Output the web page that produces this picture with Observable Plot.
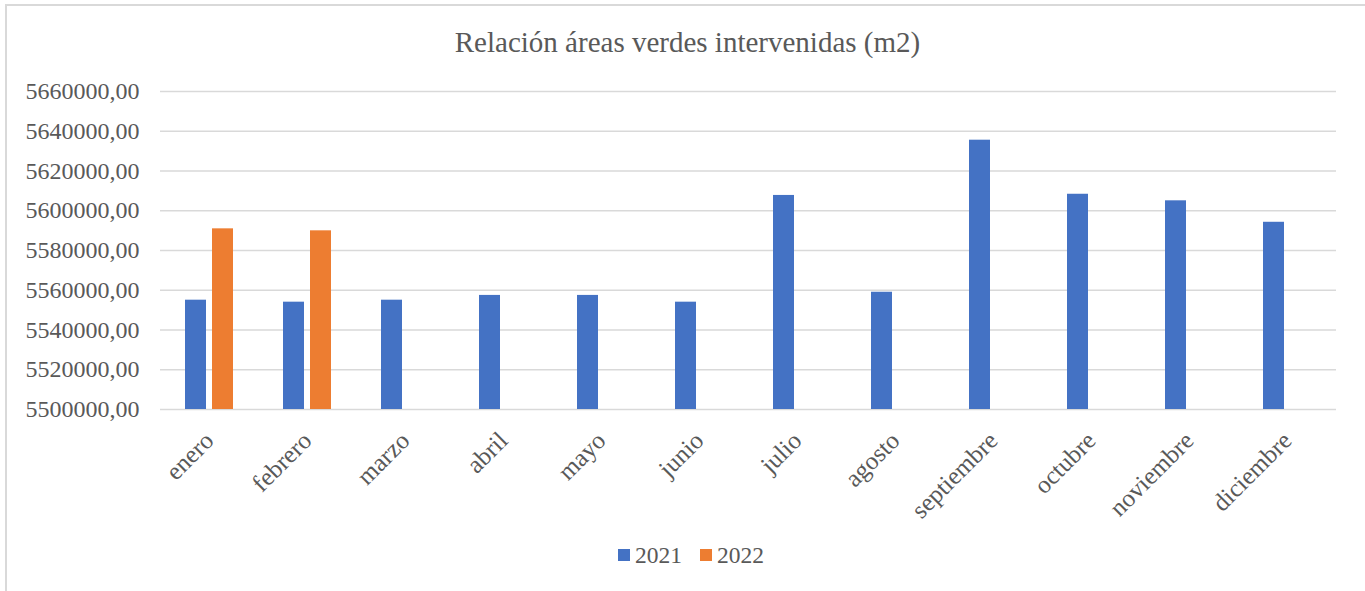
<!DOCTYPE html>
<html><head><meta charset="utf-8">
<script src="https://cdn.jsdelivr.net/npm/d3@7"></script>
<script src="https://cdn.jsdelivr.net/npm/@observablehq/plot@0.6"></script>
<style>
body{margin:0;background:#fff;width:1365px;height:591px;overflow:hidden;position:relative;}
#frame{position:absolute;left:5px;top:4px;width:1400px;height:700px;border-left:2px solid #d9d9d9;border-top:2px solid #d9d9d9;box-sizing:border-box;pointer-events:none}
#title{position:relative;height:70px}
#title span{position:absolute;left:0;width:1375px;text-align:center;top:28px;font-size:29px;line-height:29px;color:#595959;white-space:nowrap}
#chart svg{display:block;overflow:visible}
#legend{position:absolute;top:543px;left:0;width:1365px;height:24px;padding-left:17px;box-sizing:border-box;display:flex;justify-content:center;align-items:center;font-size:23.5px;line-height:24px;color:#595959}
#legend .item{display:flex;align-items:center;margin:0 9px}
#legend .sw{width:12px;height:12px;margin-right:5px}
</style></head>
<body>
<div id="frame"></div>
<div id="title"><span id="titleText"></span></div>
<div id="chart"></div>
<div id="legend"></div>
<script>
const FONT = '"Liberation Serif", "Times New Roman", Tinos, serif';
const titleText = "Relación áreas verdes intervenidas (m2)";
const months = ["enero","febrero","marzo","abril","mayo","junio","julio","agosto","septiembre","octubre","noviembre","diciembre"];
const years = ["2021","2022"];
const colors = ["#4472C4","#ED7D31"];
const values2021 = [5555000,5554000,5555000,5557400,5557400,5554000,5607700,5559000,5635500,5608300,5605000,5594200];
const values2022 = [5590900,5589900];
const yTicks = [5500000,5520000,5540000,5560000,5580000,5600000,5620000,5640000,5660000];
const yMin = 5500000, yMax = 5660000;

document.body.style.fontFamily = FONT;
const tEl = document.getElementById("titleText");
tEl.textContent = titleText;
tEl.style.fontFamily = FONT;

const rows = [];
values2021.forEach((v,i)=>rows.push({month:months[i],year:"2021",value:v}));
values2022.forEach((v,i)=>rows.push({month:months[i],year:"2022",value:v}));

const chart = Plot.plot({
  width: 1365,
  height: 470,
  marginTop: 21,
  marginBottom: 131,
  marginLeft: 158,
  marginRight: 27,
  style: {fontFamily: FONT, background: "transparent", overflow: "visible"},
  fx: {domain: months, padding: 0, label: null},
  x: {domain: years, paddingInner: 0.214, paddingOuter: 0.862, axis: null},
  y: {domain: [yMin, yMax], label: null},
  color: {domain: years, range: colors},
  marks: [
    Plot.gridY(yTicks, {stroke: "#d9d9d9", strokeOpacity: 1, strokeWidth: 1.5}),
    Plot.barY(rows, {fx: "month", x: "year", y1: yMin, y2: "value", fill: "year"}),
    Plot.axisY(yTicks, {tickSize: 0, tickPadding: 21, fontSize: 24, fontFamily: FONT, color: "#595959", tickFormat: d => d + ",00", label: null}),
    Plot.axisFx({anchor: "bottom", tickSize: 0, tickPadding: 27, tickRotate: -45, fontSize: 25, fontFamily: FONT, color: "#595959", label: null})
  ]
});
chart.setAttribute("font-family", FONT);
document.getElementById("chart").appendChild(chart);

const legend = document.getElementById("legend");
legend.style.fontFamily = FONT;
years.forEach((y,i)=>{
  const item = document.createElement("div"); item.className="item";
  const sw = document.createElement("span"); sw.className="sw"; sw.style.background = chart.scale("color").apply(y);
  const t = document.createElement("span"); t.textContent = y;
  item.appendChild(sw); item.appendChild(t); legend.appendChild(item);
});
</script>
</body></html>
